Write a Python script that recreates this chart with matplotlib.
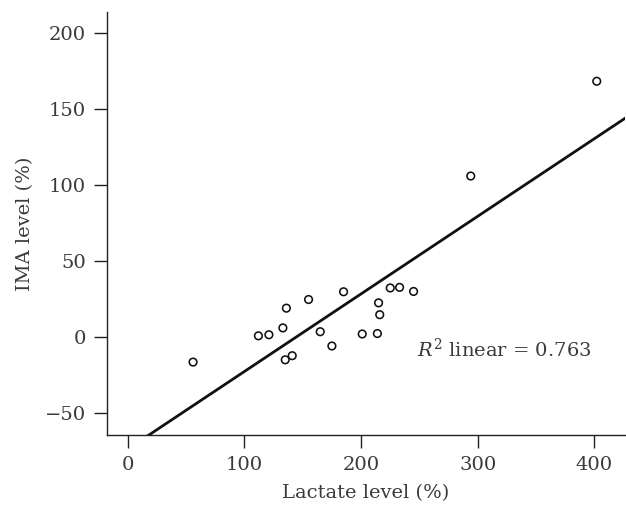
import matplotlib
matplotlib.use("Agg")
import matplotlib.pyplot as plt
import numpy as np

# Data
lactate = [56, 112, 121, 133, 136, 135, 141, 155, 165, 175, 185, 201, 214, 215, 216, 225, 233, 245, 294, 402]
ima = [-16.5, 0.8, 1.5, 6.0, 19.0, -15.0, -12.3, 24.7, 3.5, -5.9, 29.8, 2.0, 2.3, 22.5, 14.7, 32.3, 32.7, 30.0, 106.0, 168.4]
fit_slope = 0.511
fit_intercept = -73.8
r2_text = "$R^2$ linear = 0.763"
x_ticks = [0, 100, 200, 300, 400]
y_ticks = [-50, 0, 50, 100, 150, 200]

plt.rcParams['font.family'] = ['DejaVu Serif']
plt.rcParams['mathtext.fontset'] = 'dejavuserif'

fig = plt.figure(figsize=(6.26, 5.12), dpi=100)
ax = fig.add_axes([0.1714, 0.1504, 0.8266, 0.8262])

txt_color = '#3a3a3a'
ax.scatter(lactate, ima, s=30, facecolors='none', edgecolors='#111111', linewidths=1.15, zorder=3)
xl = np.array([-20, 430])
ax.plot(xl, fit_slope * xl + fit_intercept, color='#111111', lw=2.0, zorder=2)

ax.set_xlim(-17.5, 426)
ax.set_ylim(-64.5, 214)
ax.set_xticks(x_ticks)
ax.set_yticks(y_ticks)
ax.set_yticklabels([str(v).replace('-', '\u2212') for v in y_ticks])

for s in ['top', 'right']:
    ax.spines[s].set_visible(False)
for s in ['left', 'bottom']:
    ax.spines[s].set_linewidth(1.0)
    ax.spines[s].set_color('#222222')

ax.tick_params(direction='out', length=9.4, width=1.0, color='#222222',
               labelsize=14, labelcolor=txt_color)
ax.tick_params(axis='y', pad=6)
ax.tick_params(axis='x', pad=6)

ax.set_xlabel("Lactate level (%)", fontsize=14, color=txt_color, labelpad=7)
ax.set_ylabel("IMA level (%)", fontsize=14, color=txt_color, labelpad=8)

ax.text(248, -8, r2_text, fontsize=14, color=txt_color, va='center', ha='left')

fig.savefig("out.png", dpi=100)
